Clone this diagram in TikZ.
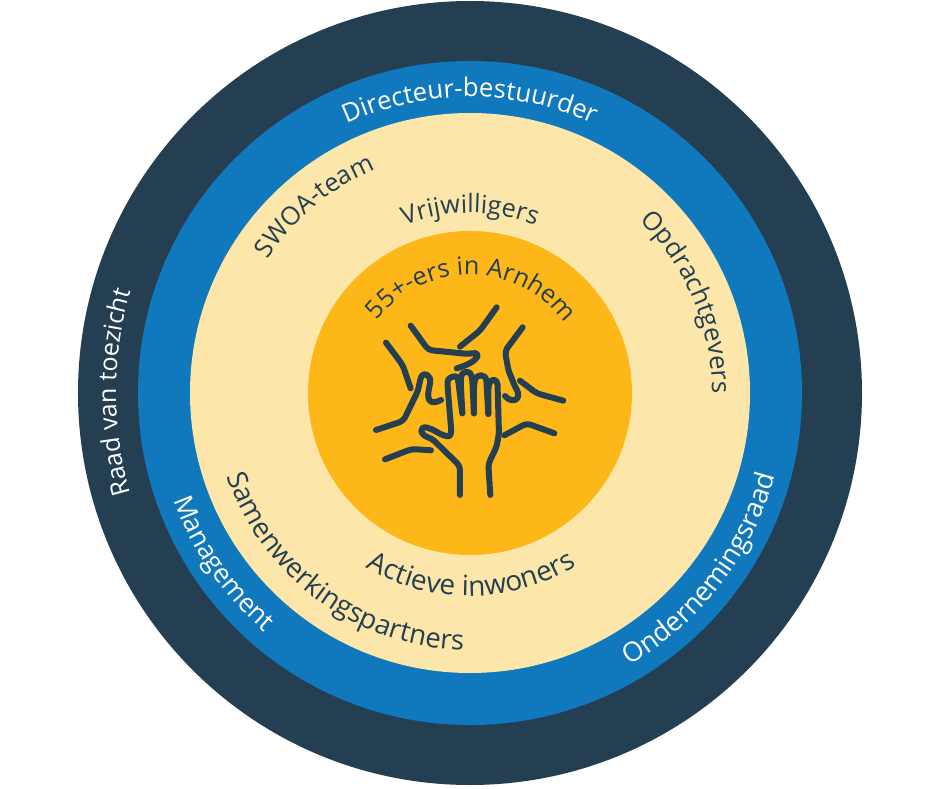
\documentclass[tikz,border=0pt]{standalone}
\usepackage{fontspec}
\setmainfont{Open Sans}
\usetikzlibrary{decorations.text}
\definecolor{ringdark}{HTML}{243F52}
\definecolor{ringblue}{HTML}{1078BD}
\definecolor{ringcream}{HTML}{FDE6AA}
\definecolor{ringorange}{HTML}{FDB718}
\tikzset{
  ringlabel/.style={decorate,decoration={text along path,text align=center,text={#1}}},
  handline/.style={draw=ringdark,line width=6pt,line cap=round,line join=round,rounded corners=4pt}
}
\newcommand{\lightfmt}[1]{|\fontsize{#1}{#1}\selectfont\color{white}|}
\newcommand{\darkfmt}[1]{|\fontsize{#1}{#1}\selectfont\color{ringdark}|}
\begin{document}
\begin{tikzpicture}[x=1pt,y=1pt]
\useasboundingbox (-470,-395) rectangle (470,393);
% Ringe
\fill[ringdark] (0,0) circle[radius=392];
\fill[ringblue] (0,0) circle[radius=332];
\fill[ringcream] (0,0) circle[radius=280];
\fill[ringorange] (0,0) circle[radius=162];
% Texte im dunklen und blauen Ring
\path[ringlabel=\lightfmt{25} Raad van toezicht] (230.4:354) arc[start angle=230.4,end angle=130.4,radius=354];
\path[ringlabel=\lightfmt{25.7} Directeur-bestuurder] (150.7:296) arc[start angle=150.7,end angle=30.7,radius=296];
\path[ringlabel=\lightfmt{26.2} Management] (164:315) arc[start angle=164,end angle=264,radius=315];
\path[ringlabel=\lightfmt{27} Ondernemingsraad] (-98:316) arc[start angle=-98,end angle=22,radius=316];
% Texte im hellen Ring
\path[ringlabel=\darkfmt{25.5} SWOA-team] (180.5:243) arc[start angle=180.5,end angle=80.5,radius=243];
\path[ringlabel=\darkfmt{25.3} Vrijwilligers] (151:180) arc[start angle=151,end angle=31,radius=180];
\path[ringlabel=\darkfmt{25.8} Opdrachtgevers] (83.5:242) arc[start angle=83.5,end angle=-36.5,radius=242];
\path[ringlabel=\darkfmt{27.5} Samenwerkingspartners] (173:257) arc[start angle=173,end angle=293,radius=257];
\path[ringlabel=\darkfmt{28} Actieve inwoners] (199.4:203) arc[start angle=199.4,end angle=339.4,radius=203];
% Text in der Mitte
\path[ringlabel=\darkfmt{25.2} 55+-ers in Arnhem] (170.7:118) arc[start angle=170.7,end angle=10.7,radius=118];
% Haende
\begin{scope}[shift={(-110,103)},x=0.3333pt,y=-0.3333pt]
\draw[handline] (410,52) -- (360,122) -- (300,170);
\draw[handline] (152,107) -- (205,180) -- (325,192) .. controls (365,185) and (360,215) .. (290,235);
\draw[handline] (488,112) -- (435,183) -- (445,240) -- (465,290) .. controls (485,325) and (460,345) .. (435,318);
\draw[handline] (480,272) -- (530,310) -- (610,332);
\draw[handline] (78,158) -- (128,225) -- (152,295);
\draw[handline] (48,420) -- (130,393) -- (175,300) -- (180,270) .. controls (190,245) and (215,255) .. (208,290) .. controls (200,335) and (215,345) .. (243,330);
\draw[handline] (300,615) -- (300,528) -- (215,445) .. controls (180,435) and (175,405) .. (215,417) -- (250,437) .. controls (270,440) and (275,435) .. (272,400) -- (263,290) .. controls (262,258) and (292,255) .. (295,275) -- (307,370);
\draw[handline] (307,370) -- (302,275) .. controls (305,240) and (332,240) .. (337,270) -- (342,370);
\draw[handline] (342,370) -- (342,285) .. controls (348,250) and (378,250) .. (380,285) -- (385,372);
\draw[handline] (385,372) -- (385,295) .. controls (390,265) and (412,265) .. (413,295) -- (417,430) -- (410,470) -- (385,522) -- (391,615);
\draw[handline] (75,508) -- (155,477) -- (213,481);
\draw[handline] (433,436) -- (500,400) -- (583,430);
\end{scope}
\end{tikzpicture}
\end{document}
